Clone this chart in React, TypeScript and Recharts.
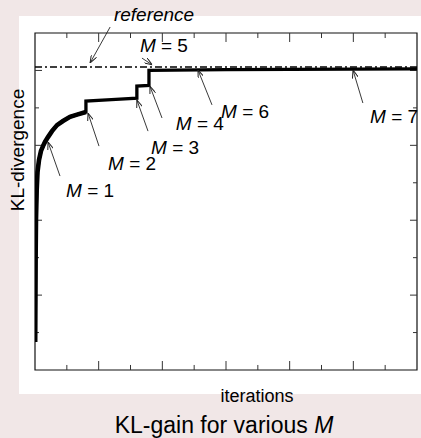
import { LineChart, Line, XAxis, YAxis, ReferenceLine, ReferenceDot, ReferenceArea } from "recharts";

// KL-gain curve (x: iterations, y: KL-divergence, arbitrary units)
const iterations = [
  0.006, 0.013, 0.019, 0.031, 0.053, 0.079, 0.126, 0.188, 0.251, 0.314, 0.408, 0.534, 0.691,
  0.88, 1.1, 1.32, 1.6, 1.6, 2.4, 3.2, 3.2, 3.58, 3.58, 6.0, 12.0,
];
const klDivergence = [
  0.75, 1.87, 2.94, 4.01, 4.81, 5.29, 5.61, 5.85, 5.98, 6.09, 6.22, 6.38, 6.54,
  6.65, 6.76, 6.82, 6.89, 7.18, 7.22, 7.26, 7.58, 7.6, 8.0, 8.02, 8.04,
];
// first stage (M = 1) drawn heavier in the picture
const firstStageEnd = 1.6;
const referenceLevel = 8.09;

const xTicks = [1, 2, 3, 4, 5, 6, 7, 8, 9, 10, 11];
const yTicks = [1, 2, 3, 4, 5, 6, 7, 8];

const labelNames = ["reference", "M = 1", "M = 2", "M = 3", "M = 4", "M = 5", "M = 6", "M = 7"];

const data = iterations.map((x, i) => ({
  x,
  kl: klDivergence[i],
  first: x < firstStageEnd || (x === firstStageEnd && i < 17) ? klDivergence[i] : null,
}));

// annotation placement in data units: text anchor, arrow start, arrow tip
const annotations = [
  { name: labelNames[0], tx: 3.74, ty: 9.32, from: [2.36, 9.16], to: [1.73, 8.2] },
  { name: labelNames[1], tx: 1.73, ty: 4.62, from: [0.785, 5.18], to: [0.408, 6.09] },
  { name: labelNames[2], tx: 3.05, ty: 5.34, from: [2.01, 5.98], to: [1.665, 6.86] },
  { name: labelNames[3], tx: 4.4, ty: 5.77, from: [3.55, 6.38], to: [3.2, 7.21] },
  { name: labelNames[4], tx: 5.18, ty: 6.41, from: [3.99, 6.73], to: [3.61, 7.58] },
  { name: labelNames[5], tx: 4.05, ty: 8.49, from: [3.36, 8.33], to: [3.68, 8.15] },
  { name: labelNames[6], tx: 6.6, ty: 6.73, from: [5.56, 7.08], to: [5.12, 8.01] },
  { name: labelNames[7], tx: 11.28, ty: 6.6, from: [10.3, 7.13], to: [9.99, 8.01] },
];

const FONT = '"Liberation Sans", Arial, Helvetica, sans-serif';

const AnnotationText = (props: any) => {
  const { viewBox, text } = props;
  const x = viewBox?.x ?? 0;
  const y = viewBox?.y ?? 0;
  const isM = text.startsWith("M");
  return (
    <text x={x} y={y} textAnchor="middle" fontSize={19} fontFamily={FONT} fill="#000">
      {isM ? (
        <>
          <tspan fontStyle="italic">M</tspan>
          <tspan>{text.slice(1)}</tspan>
        </>
      ) : (
        <tspan fontStyle="italic">{text}</tspan>
      )}
    </text>
  );
};

export default function App() {
  return (
    <div
      style={{
        position: "absolute",
        left: 0,
        top: 0,
        width: 421,
        height: 438,
        background: "#f1e7e7",
        overflow: "hidden",
      }}
    >
      <div style={{ position: "absolute", left: 19, top: 16, width: 402, height: 378, background: "#fff" }} />
      <div style={{ position: "absolute", left: 0, top: 0 }}>
        <LineChart width={421} height={438} data={data} margin={{ top: 33, right: 4, bottom: 68, left: 35 }}>
          <defs>
            <marker
              id="arrowHead"
              viewBox="0 0 8 6"
              refX="8"
              refY="3"
              markerWidth="8"
              markerHeight="6"
              markerUnits="userSpaceOnUse"
              orient="auto"
            >
              <path d="M0,0 L8,3 L0,6" fill="none" stroke="#222" strokeWidth={1} />
            </marker>
          </defs>
          <XAxis dataKey="x" type="number" domain={[0, 12]} hide allowDataOverflow />
          <YAxis type="number" domain={[0, 9]} hide allowDataOverflow />
          <ReferenceArea x1={0} x2={12} y1={0} y2={9} fill="none" stroke="#111" strokeWidth={1.2} fillOpacity={0} />
          {xTicks.map((t) => {
            const len = t % 2 === 0 ? 0.24 : 0.134;
            return [
              <ReferenceLine
                key={`xb${t}`}
                segment={[{ x: t, y: 0 }, { x: t, y: len }]}
                stroke="#333"
                strokeWidth={1}
              />,
              <ReferenceLine
                key={`xt${t}`}
                segment={[{ x: t, y: 9 }, { x: t, y: 9 - len }]}
                stroke="#333"
                strokeWidth={1}
              />,
            ];
          })}
          {yTicks.map((t) => {
            const len = t % 2 === 0 ? 0.22 : 0.126;
            return [
              <ReferenceLine
                key={`yl${t}`}
                segment={[{ x: 0, y: t }, { x: len, y: t }]}
                stroke="#333"
                strokeWidth={1}
              />,
              <ReferenceLine
                key={`yr${t}`}
                segment={[{ x: 12, y: t }, { x: 12 - len, y: t }]}
                stroke="#333"
                strokeWidth={1}
              />,
            ];
          })}
          <ReferenceLine y={referenceLevel} stroke="#000" strokeWidth={1.4} strokeDasharray="7 3 2 3" />
          <Line
            type="linear"
            dataKey="kl"
            stroke="#000"
            strokeWidth={3.3}
            dot={false}
            activeDot={false}
            isAnimationActive={false}
          />
          <Line
            type="linear"
            dataKey="first"
            stroke="#000"
            strokeWidth={4.6}
            dot={false}
            activeDot={false}
            connectNulls={false}
            isAnimationActive={false}
          />
          {annotations.map((a) => (
            <ReferenceLine
              key={`arrow-${a.name}`}
              segment={[{ x: a.from[0], y: a.from[1] }, { x: a.to[0], y: a.to[1] }]}
              stroke="#222"
              strokeWidth={0.9}
              ifOverflow="visible"
              markerEnd="url(#arrowHead)"
            />
          ))}
          {annotations.map((a) => (
            <ReferenceDot
              key={`label-${a.name}`}
              x={a.tx}
              y={a.ty}
              r={0}
              fill="none"
              stroke="none"
              ifOverflow="visible"
              label={{ content: (p: any) => <AnnotationText {...p} text={a.name} /> }}
            />
          ))}
        </LineChart>
      </div>
      <svg width={421} height={438} style={{ position: "absolute", left: 0, top: 0, pointerEvents: "none" }}>
        <text
          x={24}
          y={150}
          transform="rotate(-90 24 150)"
          textAnchor="middle"
          fontSize={19}
          fontFamily={FONT}
          fill="#000"
        >
          KL-divergence
        </text>
        <text x={257} y={402} textAnchor="middle" fontSize={18} fontFamily={FONT} fill="#000">
          iterations
        </text>
        <text x={224} y={433} textAnchor="middle" fontSize={23} fontFamily={FONT} fill="#000">
          KL-gain for various <tspan fontStyle="italic">M</tspan>
        </text>
      </svg>
    </div>
  );
}
